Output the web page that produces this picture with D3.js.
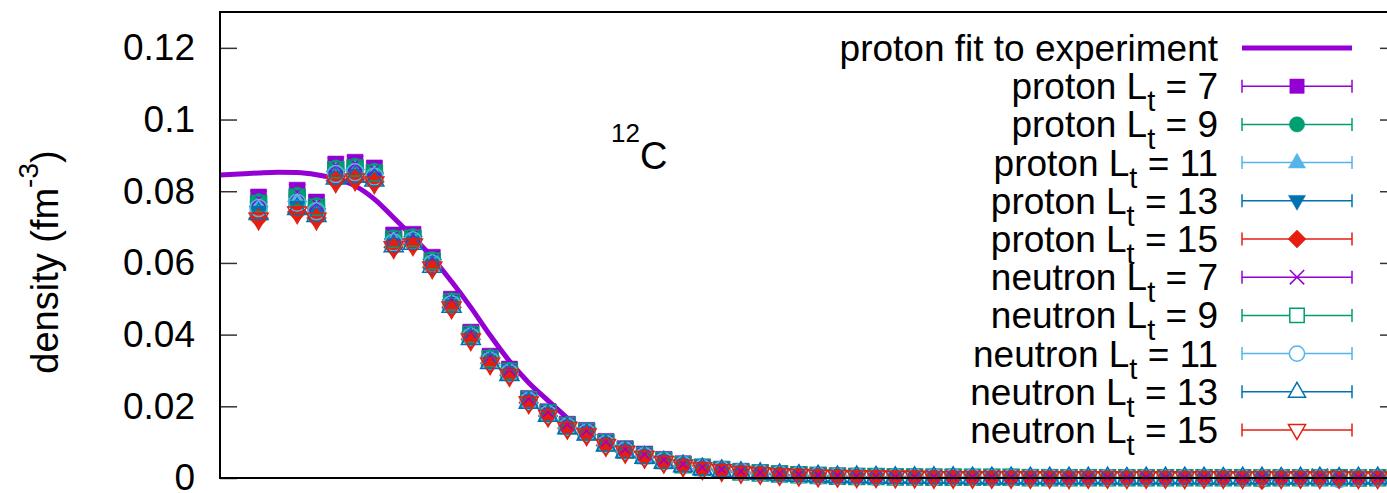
<!DOCTYPE html>
<html>
<head>
<meta charset="utf-8">
<script src="https://cdn.jsdelivr.net/npm/d3@7"></script>
<style>
  html, body { margin: 0; padding: 0; background: #fff; }
  #chart { width: 1387px; height: 493px; }
  text { font-family: "Liberation Sans", Arial, Helvetica, sans-serif; fill: #000; }
</style>
</head>
<body>
<div id="chart"></div>
<script>
// radius bins (fm)
const radius = [0.2, 0.4, 0.5, 0.6, 0.7, 0.8, 0.9, 1.0, 1.1, 1.2, 1.3, 1.4, 1.5, 1.6, 1.7, 1.8, 1.9, 2.0, 2.1, 2.2,
  2.3, 2.4, 2.5, 2.6, 2.7, 2.8, 2.9, 3.0, 3.1, 3.2, 3.3, 3.4, 3.5, 3.6, 3.7, 3.8, 3.9, 4.0, 4.1, 4.2,
  4.3, 4.4, 4.5, 4.6, 4.7, 4.8, 4.9, 5.0, 5.1, 5.2, 5.3, 5.4, 5.5, 5.6, 5.7, 5.8, 5.9, 6.0];

const protonLt7 = [.0784,.0803,.0770,.0876,.0881,.0865,.0678,.0680,.0616,.0499,
  .0407,.0340,.0304,.0222,.0185,.0150,.0133,.0102,.0082,.0067,
  .0052,.0040,.0031,.0025,.0019,.0015,.0012,.0010,.0008,.0006,
  .0005,.0004,.0004,.0003,.0003,.0003,.0002,.0002,.0002,.0002,
  .0002,.0001,.0001,.0001,.0001,.0001,.0001,.0001,.0001,.0001,
  .0001,.0001,.0001,.0001,.0001,.0001,.0001,.0001];
const protonLt9 = [.0770,.0788,.0759,.0864,.0869,.0855,.0669,.0672,.0608,.0493,
  .0402,.0335,.0299,.0219,.0182,.0147,.0130,.0099,.0079,.0064,
  .0050,.0038,.0030,.0024,.0018,.0014,.0011,.0009,.0007,.0006,
  .0005,.0004,.0003,.0003,.0003,.0002,.0002,.0002,.0002,.0002,
  .0001,.0001,.0001,.0001,.0001,.0001,.0001,.0001,.0001,.0001,
  .0001,.0001,.0001,.0001,.0001,.0000,.0001,.0001];
const protonLt11 = [.0757,.0772,.0747,.0852,.0857,.0845,.0660,.0665,.0601,.0487,
  .0396,.0329,.0294,.0216,.0179,.0144,.0127,.0096,.0077,.0062,
  .0048,.0037,.0028,.0023,.0017,.0014,.0011,.0009,.0007,.0005,
  .0004,.0004,.0003,.0003,.0002,.0002,.0002,.0002,.0002,.0001,
  .0001,.0001,.0001,.0001,.0001,.0001,.0001,.0001,.0001,.0001,
  .0001,.0001,.0001,.0000,.0001,.0001,.0000,.0001];
const protonLt13 = [.0742,.0756,.0736,.0840,.0845,.0835,.0651,.0658,.0594,.0481,
  .0391,.0324,.0290,.0212,.0176,.0141,.0124,.0093,.0074,.0059,
  .0045,.0035,.0027,.0022,.0016,.0013,.0010,.0008,.0006,.0005,
  .0004,.0003,.0003,.0002,.0002,.0002,.0002,.0001,.0001,.0001,
  .0001,.0001,.0001,.0001,.0001,.0001,.0001,.0000,.0001,.0001,
  .0000,.0001,.0001,.0000,.0001,.0000,.0001,.0000];
const protonLt15 = [.0725,.0742,.0725,.0829,.0834,.0826,.0644,.0652,.0588,.0476,
  .0387,.0320,.0287,.0210,.0173,.0139,.0121,.0091,.0072,.0058,
  .0044,.0034,.0026,.0021,.0016,.0012,.0009,.0007,.0005,.0004,
  .0003,.0003,.0002,.0002,.0002,.0001,.0001,.0001,.0001,.0001,
  .0001,.0001,.0000,.0001,.0001,.0000,.0001,.0001,.0000,.0001,
  .0000,-.0005,.0001,.0000,.0001,.0000,.0000,.0001];
const neutronLt7 = [.0780,.0798,.0766,.0872,.0877,.0861,.0675,.0677,.0613,.0497,
  .0405,.0338,.0302,.0221,.0184,.0149,.0132,.0101,.0081,.0066,
  .0051,.0039,.0030,.0024,.0018,.0015,.0012,.0010,.0008,.0006,
  .0005,.0004,.0003,.0003,.0003,.0002,.0002,.0002,.0002,.0002,
  .0001,.0001,.0001,.0001,.0001,.0001,.0001,.0001,.0001,.0001,
  .0001,.0001,.0001,.0001,.0004,.0001,.0001,.0001];
const neutronLt9 = [.0766,.0783,.0755,.0860,.0865,.0851,.0666,.0669,.0605,.0491,
  .0400,.0333,.0297,.0218,.0181,.0146,.0129,.0098,.0078,.0063,
  .0049,.0037,.0029,.0023,.0017,.0014,.0011,.0009,.0007,.0005,
  .0004,.0004,.0003,.0003,.0002,.0002,.0002,.0002,.0002,.0001,
  .0001,.0001,.0001,.0001,.0001,.0001,.0001,.0001,.0001,.0001,
  .0001,.0000,.0001,.0001,.0001,.0001,.0000,.0001];
const neutronLt11 = [.0753,.0768,.0744,.0848,.0853,.0841,.0657,.0662,.0598,.0485,
  .0394,.0327,.0293,.0215,.0178,.0143,.0126,.0095,.0076,.0061,
  .0047,.0036,.0027,.0022,.0017,.0013,.0010,.0008,.0006,.0005,
  .0004,.0003,.0003,.0002,.0002,.0002,.0002,.0001,.0001,.0001,
  .0001,.0001,.0001,.0001,.0001,.0001,.0000,.0001,.0001,.0001,
  .0000,.0001,.0001,.0001,.0000,-.0003,.0001,.0000];
const neutronLt13 = [.0738,.0752,.0732,.0837,.0842,.0831,.0648,.0655,.0591,.0479,
  .0389,.0322,.0289,.0211,.0175,.0140,.0123,.0092,.0073,.0058,
  .0044,.0034,.0026,.0021,.0016,.0013,.0010,.0008,.0006,.0004,
  .0004,.0003,.0002,.0002,.0002,.0002,.0001,.0001,.0001,.0001,
  .0001,.0001,.0001,.0001,.0000,.0001,.0001,.0001,.0001,.0000,
  .0001,.0001,.0000,.0001,.0001,.0000,.0001,.0001];
const neutronLt15 = [.0722,.0739,.0722,.0826,.0831,.0823,.0642,.0650,.0586,.0474,
  .0385,.0318,.0285,.0209,.0172,.0138,.0120,.0090,.0071,.0057,
  .0043,.0033,.0025,.0020,.0015,.0012,.0009,.0007,.0005,.0004,
  .0003,.0003,.0002,.0002,.0001,.0001,.0001,.0001,.0001,.0001,
  .0001,.0000,.0001,.0001,.0000,.0001,.0001,.0000,.0001,.0001,
  .0000,.0001,.0000,.0001,.0000,.0001,.0000,.0000];

// proton fit to experiment
const fitRadius = [0, 0.1, 0.2, 0.3, 0.4, 0.5, 0.6, 0.7, 0.8, 0.9, 1.0, 1.1, 1.2, 1.3, 1.4, 1.5, 1.6, 1.7, 1.8];
const fitDensity = [.0845,.0848,.0851,.0853,.0852,.0846,.0835,.0815,.0778,.0726,.0672,.0615,.0548,.0476,.0398,.0326,.0266,.0216,.0167];

const yTicks = [0, 0.02, 0.04, 0.06, 0.08, 0.1, 0.12];
const yTickLabels = ["0", "0.02", "0.04", "0.06", "0.08", "0.1", "0.12"];

const seriesNames = ["proton", "proton", "proton", "proton", "proton", "neutron", "neutron", "neutron", "neutron", "neutron"];
const seriesLt = ["7", "9", "11", "13", "15", "7", "9", "11", "13", "15"];
const seriesValues = [protonLt7, protonLt9, protonLt11, protonLt13, protonLt15,
  neutronLt7, neutronLt9, neutronLt11, neutronLt13, neutronLt15];

const colors = ["#9400d3", "#009e73", "#56b4e9", "#0072b2", "#e51e10"];
const shapes = ["square", "circle", "triangle", "invtriangle", "diamond", "times", "square", "circle", "triangle", "invtriangle"];

const width = 1387, height = 493;
const margin = { top: 12, left: 220, bottom: 15, right: -10 };

const svg = d3.select("#chart").append("svg")
  .attr("width", width)
  .attr("height", height);

const x = d3.scaleLinear()
  .domain([0, 6.1])
  .range([margin.left, width - margin.right]);

const y = d3.scaleLinear()
  .domain([0, 0.13])
  .range([height - margin.bottom, margin.top]);

// marker outlines, k scales them
function shapePath(kind, k) {
  switch (kind) {
    case "square": return `M${-8*k},${-8*k}H${8*k}V${8*k}H${-8*k}Z`;
    case "circle": { const r = 8.5 * k; return `M${r},0A${r},${r} 0 1,1 ${-r},0A${r},${r} 0 1,1 ${r},0Z`; }
    case "triangle": return `M0,${-10.5*k}L${9.5*k},${6*k}L${-9.5*k},${6*k}Z`;
    case "invtriangle": return `M0,${10.5*k}L${9.5*k},${-6*k}L${-9.5*k},${-6*k}Z`;
    case "diamond": return `M0,${-10*k}L${10*k},0L0,${10*k}L${-10*k},0Z`;
    case "times": return `M${-8*k},${-8*k}L${8*k},${8*k}M${-8*k},${8*k}L${8*k},${-8*k}`;
  }
}

// fit curve
svg.append("path")
  .datum(fitRadius.map((r, i) => [r, fitDensity[i]]))
  .attr("fill", "none")
  .attr("stroke", "#9400d3")
  .attr("stroke-width", 5)
  .attr("d", d3.line().x(d => x(d[0])).y(d => y(d[1])).curve(d3.curveMonotoneX));

// points
seriesValues.forEach((vals, s) => {
  const filled = s < 5;
  const col = colors[s % 5];
  svg.append("g").selectAll("path")
    .data(vals.map((v, i) => [radius[i], v]))
    .join("path")
    .attr("transform", d => `translate(${x(d[0])},${y(d[1])})`)
    .attr("d", shapePath(shapes[s], 1))
    .attr("fill", filled ? col : "none")
    .attr("stroke", col)
    .attr("stroke-width", filled ? 0.5 : 1.5);
});

// axes
svg.append("g")
  .attr("transform", `translate(${margin.left},0)`)
  .call(d3.axisLeft(y).tickValues(yTicks).tickFormat((d, i) => yTickLabels[i]).tickSize(-17).tickPadding(25))
  .call(g => g.select(".domain").remove())
  .call(g => g.selectAll(".tick line").attr("stroke", "#333").attr("stroke-width", 1.5))
  .call(g => g.selectAll(".tick text").attr("font-size", 37).attr("font-family", "Liberation Sans, Arial, sans-serif"));

svg.append("g")
  .attr("transform", `translate(${width - margin.right},0)`)
  .call(d3.axisRight(y).tickValues(yTicks).tickFormat("").tickSize(-17))
  .call(g => g.select(".domain").remove())
  .call(g => g.selectAll(".tick line").attr("stroke", "#333").attr("stroke-width", 1.5));

svg.append("rect")
  .attr("x", margin.left)
  .attr("y", margin.top)
  .attr("width", width - margin.right - margin.left)
  .attr("height", height - margin.bottom - margin.top)
  .attr("fill", "none")
  .attr("stroke", "#000")
  .attr("stroke-width", 2);

// y label
const yl = svg.append("text")
  .attr("transform", "translate(58,262) rotate(-90)")
  .attr("text-anchor", "middle")
  .attr("font-size", 38);
yl.append("tspan").text("density (fm");
yl.append("tspan").attr("font-size", 28).attr("dy", -20).text("-3");
yl.append("tspan").attr("dy", 20).text(")");

// nucleus label
const nl = svg.append("text").attr("x", 611).attr("y", 169).attr("font-size", 38);
nl.append("tspan").attr("font-size", 26).attr("dy", -27).text("12");
nl.append("tspan").attr("dy", 27).text("C");

// legend
const legX = 1218, lineX0 = 1242, lineX1 = 1352, rowY0 = 48, rowStep = 38.2;
const leg = svg.append("g");

leg.append("text")
  .attr("x", legX).attr("y", rowY0 + 13)
  .attr("text-anchor", "end").attr("font-size", 37)
  .text("proton fit to experiment");
leg.append("line")
  .attr("x1", lineX0).attr("x2", lineX1)
  .attr("y1", rowY0).attr("y2", rowY0)
  .attr("stroke", "#9400d3").attr("stroke-width", 5);

seriesNames.forEach((name, s) => {
  const ry = rowY0 + rowStep * (s + 1);
  const col = colors[s % 5];
  const t = leg.append("text")
    .attr("x", legX).attr("y", ry + 13)
    .attr("text-anchor", "end").attr("font-size", 37);
  t.append("tspan").text(name + " L");
  t.append("tspan").attr("font-size", 29).attr("dy", 12).text("t");
  t.append("tspan").attr("dy", -12).text(" = " + seriesLt[s]);

  leg.append("line")
    .attr("x1", lineX0).attr("x2", lineX1).attr("y1", ry).attr("y2", ry)
    .attr("stroke", col).attr("stroke-width", 1.5);
  [lineX0, lineX1].forEach(cx => leg.append("line")
    .attr("x1", cx).attr("x2", cx).attr("y1", ry - 6.5).attr("y2", ry + 6.5)
    .attr("stroke", col).attr("stroke-width", 1.5));
  leg.append("path")
    .attr("transform", `translate(${(lineX0 + lineX1) / 2},${ry})`)
    .attr("d", shapePath(shapes[s], 0.9))
    .attr("fill", s < 5 ? col : "#fff")
    .attr("stroke", col)
    .attr("stroke-width", s < 5 ? 0.5 : 1.5);
});
</script>
</body>
</html>
